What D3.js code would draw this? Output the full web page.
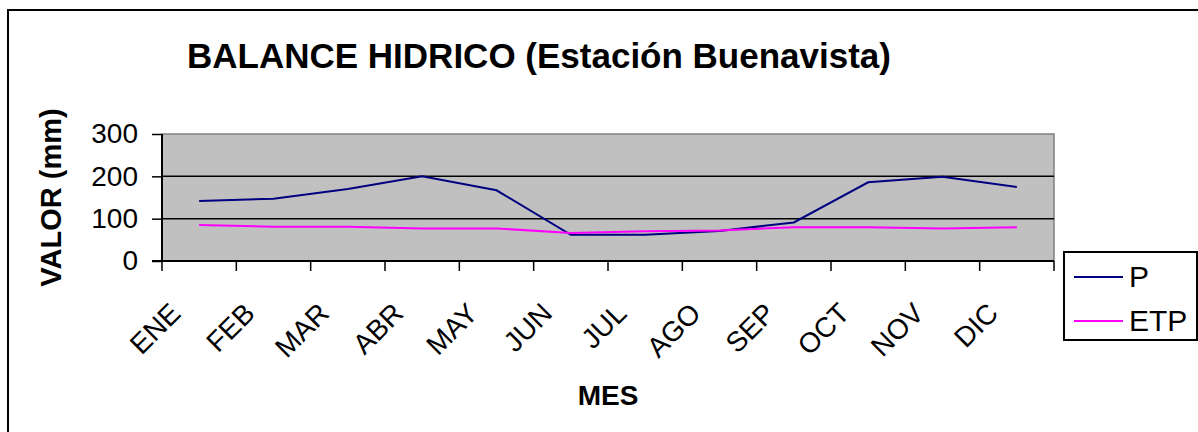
<!DOCTYPE html>
<html>
<head>
<meta charset="utf-8">
<script src="https://cdn.jsdelivr.net/npm/d3@7"></script>
<style>
  body { margin: 0; background: #fff; }
  svg { display: block; font-family: 'Liberation Sans', Arial, sans-serif; }
</style>
</head>
<body>
<svg id="chart" width="1198" height="432"></svg>
<script>
var months = ['ENE', 'FEB', 'MAR', 'ABR', 'MAY', 'JUN', 'JUL', 'AGO', 'SEP', 'OCT', 'NOV', 'DIC'];
var valuesP = [142, 147, 170, 200, 167, 62, 62, 71, 91, 186, 199, 175];
var valuesETP = [85, 81, 81, 77, 77, 66, 70, 72, 80, 80, 77, 80];
var yTicks = [0, 100, 200, 300];
var seriesNames = ['P', 'ETP'];
var seriesColors = ['#000080', '#ff00ff'];

function drawChart() {
  var svg = d3.select('#chart');

  // outer chart border (runs past the right and bottom edges)
  svg
    .append('rect')
    .attr('x', 8)
    .attr('y', 10)
    .attr('width', 1200)
    .attr('height', 430)
    .attr('fill', 'none')
    .attr('stroke', '#000')
    .attr('stroke-width', 2);

  var left = 162, right = 1054, top = 134, bottom = 261;

  var x = d3.scaleBand().domain(months).range([left, right]);
  var y = d3.scaleLinear().domain([0, 300]).range([bottom, top]);

  // plot area
  svg
    .append('rect')
    .attr('x', left)
    .attr('y', top)
    .attr('width', right - left)
    .attr('height', bottom - top)
    .attr('fill', '#c0c0c0')
    .attr('stroke', '#808080')
    .attr('stroke-width', 1.5);

  svg
    .append('g')
    .selectAll('line')
    .data([100, 200])
    .join('line')
    .attr('x1', left)
    .attr('x2', right)
    .attr('y1', d => y(d))
    .attr('y2', d => y(d))
    .attr('stroke', '#000')
    .attr('stroke-width', 1.5);

  // y axis
  var yAxis = svg
    .append('g')
    .attr('transform', `translate(${left},0)`)
    .call(d3.axisLeft(y).tickValues(yTicks).tickSize(10).tickPadding(14));
  yAxis.select('.domain').attr('stroke-width', 2).attr('d', `M0,${top}V${bottom}`);
  yAxis.selectAll('.tick line').attr('stroke-width', 1.5);
  yAxis
    .selectAll('.tick text')
    .attr('font-size', 28)
    .attr('font-family', "'Liberation Sans', Arial, sans-serif")
    .attr('fill', '#000');

  // x axis: ticks on band edges
  var edges = months.map(m => x(m)).concat([right]);
  svg
    .append('line')
    .attr('x1', left - 10)
    .attr('x2', right)
    .attr('y1', bottom)
    .attr('y2', bottom)
    .attr('stroke', '#000')
    .attr('stroke-width', 2);
  svg
    .append('g')
    .selectAll('line')
    .data(edges)
    .join('line')
    .attr('x1', d => d)
    .attr('x2', d => d)
    .attr('y1', bottom)
    .attr('y2', bottom + 10)
    .attr('stroke', '#000')
    .attr('stroke-width', 1.5);

  svg
    .append('g')
    .selectAll('text')
    .data(months)
    .join('text')
    .attr('transform', d => `translate(${x(d) + x.bandwidth() / 2 - 17},${bottom + 54}) rotate(-45)`)
    .attr('text-anchor', 'end')
    .attr('font-size', 28)
    .text(d => d);

  // lines
  var line = d3
    .line()
    .x((d, i) => x(months[i]) + x.bandwidth() / 2)
    .y(d => y(d));

  [valuesP, valuesETP].forEach(function(vals, i) {
    svg
      .append('path')
      .datum(vals)
      .attr('d', line)
      .attr('fill', 'none')
      .attr('stroke', seriesColors[i])
      .attr('stroke-width', 2);
  });

  // titles
  svg
    .append('text')
    .attr('x', 539)
    .attr('y', 68)
    .attr('text-anchor', 'middle')
    .attr('font-size', 35)
    .attr('font-weight', 'bold')
    .text('BALANCE HIDRICO (Estación Buenavista)');

  svg
    .append('text')
    .attr('transform', `translate(61,${(top + bottom) / 2}) rotate(-90)`)
    .attr('text-anchor', 'middle')
    .attr('font-size', 29)
    .attr('font-weight', 'bold')
    .text('VALOR (mm)');

  svg
    .append('text')
    .attr('x', (left + right) / 2)
    .attr('y', 405)
    .attr('text-anchor', 'middle')
    .attr('font-size', 28)
    .attr('font-weight', 'bold')
    .text('MES');

  // legend
  var legend = svg.append('g').attr('transform', 'translate(1064,252)');
  legend
    .append('rect')
    .attr('width', 133)
    .attr('height', 88)
    .attr('fill', '#fff')
    .attr('stroke', '#000')
    .attr('stroke-width', 2);

  seriesNames.forEach(function(name, i) {
    var ly = 25 + i * 44;
    legend
      .append('line')
      .attr('x1', 10)
      .attr('x2', 59)
      .attr('y1', ly)
      .attr('y2', ly)
      .attr('stroke', seriesColors[i])
      .attr('stroke-width', 2);
    legend
      .append('text')
      .attr('x', 65)
      .attr('y', ly + 10)
      .attr('font-size', 30)
      .text(name);
  });
}

document.addEventListener('DOMContentLoaded', drawChart);
</script>
</body>
</html>
